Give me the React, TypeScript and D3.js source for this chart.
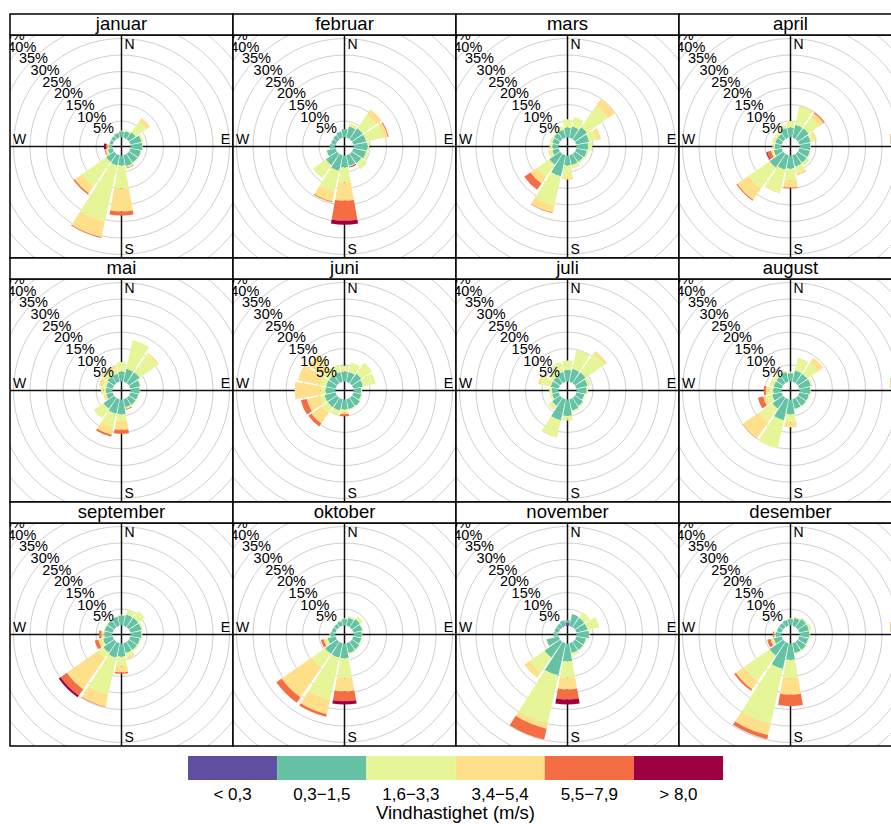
import React from 'react';
import * as d3 from 'd3';

const months = ['januar', 'februar', 'mars', 'april', 'mai', 'juni', 'juli', 'august', 'september', 'oktober', 'november', 'desember'];
const directions = [0, 22.5, 45, 67.5, 90, 112.5, 135, 157.5, 180, 202.5, 225, 247.5, 270, 292.5, 315, 337.5];
const speedBins = ['< 0,3', '0,3\u22121,5', '1,6\u22123,3', '3,4\u22125,4', '5,5\u22127,9', '> 8,0'];
const speedColors = ['#5E4FA2', '#66C2A5', '#E6F598', '#FEE08B', '#F46D43', '#9E0142'];
const gridLevels = [5, 10, 15, 20, 25, 30, 35, 40, 45];
const compass = ['N', 'E', 'S', 'W'];

// percent frequency per direction (N..NNW), per speed class
const januar = [[0,1.8,0.3,0,0,0],[0,2.0,0.5,0,0,0],[0,2.5,3.9,1.4,0,0],[0,3.5,0.6,0,0,0],[0,3.6,0.2,0,0,0],[0,3.3,0.2,0,0,0],[0,3.2,0.3,0,0,0],[0,3.4,0.4,0.1,0.2,0],[0,3.0,7.0,7.0,1.2,0],[0,3.2,17.3,4.9,0.3,0],[0,3.0,8.9,2.7,0.4,0],[0,1.5,0.4,0.3,0.3,0],[0,1.0,0.3,0.3,0.4,0.6],[0,1.0,0.1,0,0,0],[0,1.2,0.1,0,0,0],[0,1.5,0.2,0,0,0]];
const februar = [[0.1,2.5,0,0,0,0],[0,3.5,1.0,0,0,0],[0,4.0,5.0,2.0,0,0],[0,4.0,5.5,1.2,0.3,0],[0,4.3,0.5,0,0,0],[0,4.0,0.8,0,0,0],[0,3.5,2.2,0,0,0],[0,3.3,0.3,0,0,0.2],[0,3.6,4.6,5.5,6.1,1.2],[0,4.8,6.6,2.9,0.3,0],[0,4.2,4.8,0,0,0],[0,2.8,0.2,0,0,0],[0.2,1.5,0,0,0,0],[0.2,1.2,0,0,0,0],[0.2,1.3,0,0,0,0],[0.1,1.8,0,0,0,0]];
const mars = [[0,3.0,2.5,0,0,0],[0,3.5,2.9,0,0,0],[0,4.5,7.7,2.6,0,0],[0,4.0,2.5,1.2,0,0],[0,3.5,1.3,0,0,0],[0,3.3,0.5,0,0,0],[0,3.0,0.5,0,0,0],[0,3.0,0.8,0.3,0,0],[0,3.0,3.5,0.8,0,0],[0,6.5,9.0,2.3,0.2,0],[0,4.0,4.5,2.5,2.3,0],[0,2.0,0.8,0.5,0,0],[0,1.8,0.7,0.2,0,0],[0,2.0,0.8,0,0,0],[0,2.3,0.5,0,0,0],[0,2.5,1.1,0,0,0]];
const april = [[0,3.0,2.0,0,0,0],[0,4.0,5.5,0.4,0,0],[0,4.0,4.0,1.6,0.3,0],[0,3.5,1.5,0.5,0,0],[0,3.3,0.2,0,0,0],[0,3.3,0.3,0,0,0],[0,3.3,1.0,0,0,0],[0,3.5,2.0,0.5,0.1,0],[0,4.0,3.5,2.2,0.3,0],[0,4.5,7.0,0.3,0,0],[0,5.0,7.8,4.2,0.3,0],[0,2.5,0.5,0.3,1.2,0.3],[0,2.0,0.5,0.3,0,0],[0,2.0,1.0,0,0,0],[0,2.0,1.0,0,0,0],[0,3.0,1.0,0,0,0]];
const mai = [[0,3.0,2.9,0,0,0],[0,4.0,8.9,0,0,0],[0,4.0,6.7,0.5,0,0],[0,3.1,0.3,0,0,0],[0,2.8,0.2,0,0,0],[0,2.5,0.2,0,0,0],[0,2.5,0.3,0,0,0],[0,2.5,0.3,0.2,0.3,0],[0,4.5,2.0,2.7,1.2,0],[0,4.5,4.0,2.5,0.6,0],[0,4.0,3.6,0,0,0],[0,2.0,0.5,0.5,0,0],[0,2.0,0.8,0.7,0,0],[0,2.0,1.0,1.3,0,0],[0,2.5,1.5,0.8,0,0],[0,2.5,1.5,1.0,0,0]];
const juni = [[0,3.0,1.8,0,0,0],[0,3.0,3.0,0,0,0],[0,3.5,4.0,0,0,0],[0,3.0,4.0,0,0,0],[0,2.3,0.3,0,0,0],[0,2.5,0.3,0,0,0],[0,3.0,0.2,0,0,0],[0,3.0,0.3,0,0,0],[0,3.0,1.0,0.4,0.7,0],[0,3.5,1.6,0,0,0],[0,3.5,2.0,4.0,1.1,0],[0,3.5,1.5,4.0,1.8,0],[0,3.0,1.5,7.9,0,0],[0,3.0,2.0,6.7,0,0],[0,3.0,2.5,5.0,0,0],[0,3.0,2.2,0,0,0]];
const juli = [[0,3.5,2.9,0,0,0],[0,4.0,5.9,0,0,0],[0,4.0,6.8,1.1,0,0],[0,3.5,1.1,0,0,0],[0,3.0,0.5,0,0,0],[0,2.5,0.2,0,0,0],[0,3.0,0.3,0,0,0],[0,3.5,0.5,0,0,0],[0,5.0,0.8,0.6,0,0],[0,6.5,5.0,0.4,0,0],[0,3.0,1.5,0,0,0],[0,2.0,0.8,0,0,0],[0,2.0,0.8,0,0,0],[0,2.5,3.0,1.0,0,0],[0,2.5,1.8,0,0,0],[0,3.0,3.1,0,0,0]];
const august = [[0,2.5,0.5,0,0,0],[0,3.5,3.9,0,0,0],[0,3.5,4.0,1.9,0,0],[0.1,3.5,0.5,0,0,0],[0,3.3,0.2,0,0,0],[0,3.0,0.2,0,0,0],[0,3.0,0.2,0,0,0],[0,3.0,0.3,0,0,0],[0,4.5,2.5,1.4,0,0],[0,6.5,8.8,0,0,0],[0,4.0,5.0,6.0,0.1,0],[0,3.0,2.0,0.8,1.6,0],[0,2.5,1.5,0.8,0.6,0],[0,2.5,1.3,0,0,0],[0,2.5,1.0,0,0,0],[0,3.0,0.5,0,0,0]];
const september = [[0,3.0,0.3,0,0,0],[0,3.5,1.5,0,0,0],[0,3.5,2.5,0,0,0],[0,3.5,0.5,0,0,0],[0,3.3,0.3,0,0,0],[0,3.0,0.3,0,0,0],[0,3.0,0.5,0,0,0],[0,3.0,1.2,0.6,0,0],[0,4.0,3.0,1.7,0.5,0],[0,4.5,11.5,3.6,0.2,0],[0,4.0,2.0,11.5,2.3,0.7],[0,3.0,0.5,1.0,1.1,0],[0,2.5,0.3,0.6,0.7,0],[0,2.5,0.3,0,0,0],[0,2.5,0.2,0,0,0],[0,2.8,0.2,0,0,0]];
const oktober = [[0,2.0,0.2,0,0,0],[0,2.5,0.5,0,0,0],[0,3.0,1.0,0,0,0],[0,2.8,0.3,0,0,0],[0,2.5,0.2,0,0,0],[0,2.5,0.2,0,0,0],[0,2.8,0.3,0,0,0],[0,3.0,0.5,0,0,0],[0,4.5,6.0,4.0,3.0,1.0],[0,4.5,13.0,4.5,0.8,0],[0,4.5,5.0,11.0,2.0,0],[0,2.5,0.8,0.5,0.8,0],[0,1.5,0.3,0,0,0],[0,1.2,0,0,0,0],[0,1.2,0,0,0,0],[0,1.5,0.2,0,0,0]];
const november = [[0.8,0.8,0,0,0,0],[0.2,3.4,0.2,0,0,0],[0,3.5,2.0,0,0,0],[0,3.5,3.7,0,0,0],[0,3.8,0.2,0,0,0],[0,3.0,0.3,0,0,0],[0,3.0,0.3,0,0,0],[0,3.0,0.8,0,0,0],[0,5.4,5.0,3.5,3.1,1.5],[0,10.0,15.0,1.5,3.4,0],[0,5.8,5.5,2.0,0,0],[0,3.8,0.2,0,0,0],[0,1.5,0,0,0,0],[0.1,1.2,0,0,0,0],[0.1,1.2,0,0,0,0],[0.2,1.5,0,0,0,0]];
const desember = [[0,2.0,0.2,0,0,0],[0,2.5,0.3,0,0,0],[0,3.0,0.5,0,0,0],[0,3.0,0.8,0,0,0],[0,3.0,0.3,0,0,0],[0,2.8,0.2,0,0,0],[0,3.0,0.3,0,0,0],[0,3.0,0.5,0,0,0],[0,5.0,5.5,5.0,3.5,0],[0,8.0,17.0,3.5,1.2,0],[0,5.0,9.5,3.0,0.6,0],[0,2.5,0.5,0.5,1.0,0],[0,1.8,0.3,0.2,0.3,0],[0,1.5,0,0,0,0],[0,1.5,0,0,0,0],[0,1.8,0,0,0,0]];

const monthData = [januar, februar, mars, april, mai, juni, juli, august, september, oktober, november, desember];

const FONT = 'Liberation Sans, Arial, sans-serif';
const left0 = 10, top0 = 14, panelW = 223, stripH = 21, plotH = 223, rowPitch = 244;
const halfWidthDeg = 10;

const rScale = d3.scaleLinear().domain([0, 45]).range([9, 9 + 3.3 * 45]);
const arcGen = d3.arc<any>();

function Panel({ idx }: { idx: number }) {
  const col = idx % 4, row = Math.floor(idx / 4);
  const x0 = left0 + col * panelW;
  const y0 = top0 + row * rowPitch;
  const py = y0 + stripH;
  const cx = x0 + panelW / 2, cy = py + plotH / 2;
  const data = monthData[idx];
  const clipId = `clip-${idx}`;
  const segs: any[] = [];
  data.forEach((vals, di) => {
    let cum = 0;
    const a = directions[di] * Math.PI / 180;
    const hw = halfWidthDeg * Math.PI / 180;
    vals.forEach((v, si) => {
      if (v <= 0) return;
      const d = arcGen({ innerRadius: rScale(cum), outerRadius: rScale(cum + v), startAngle: a - hw, endAngle: a + hw });
      segs.push(<path key={`${di}-${si}`} d={d || ''} fill={speedColors[si]} />);
      cum += v;
    });
  });
  return (
    <g>
      <defs>
        <clipPath id={clipId}><rect x={x0} y={py} width={panelW} height={plotH} /></clipPath>
      </defs>
      <rect x={x0} y={py} width={panelW} height={plotH} fill="white" />
      <g clipPath={`url(#${clipId})`}>
        {gridLevels.map(g => (
          <circle key={g} cx={cx} cy={cy} r={rScale(g)} fill="none" stroke="#cfcfcf" strokeWidth={1} />
        ))}
        <line x1={x0} x2={x0 + panelW} y1={cy} y2={cy} stroke="#111" strokeWidth={1.5} />
        <line x1={cx} x2={cx} y1={py} y2={py + plotH} stroke="#111" strokeWidth={1.5} />
        <g transform={`translate(${cx},${cy})`}>{segs}</g>
        {gridLevels.map(g => {
          const r = rScale(g);
          return (
            <text key={g} x={cx - r * Math.SQRT1_2} y={cy - r * Math.SQRT1_2} textAnchor="middle" dominantBaseline="central" fontSize={14.5} fontFamily={FONT} fill="#000">{`${g}%`}</text>
          );
        })}
        <text x={cx + 3} y={py + 14} fontSize={14} fontFamily={FONT}>{compass[0]}</text>
        <text x={cx + 3} y={py + plotH - 4} fontSize={14} fontFamily={FONT}>{compass[2]}</text>
        <text x={x0 + 3} y={cy - 3} fontSize={14} fontFamily={FONT}>{compass[3]}</text>
        <text x={x0 + panelW - 3} y={cy - 3} fontSize={14} textAnchor="end" fontFamily={FONT}>{compass[1]}</text>
      </g>
      <rect x={x0} y={py} width={panelW} height={plotH} fill="none" stroke="#000" strokeWidth={1.5} />
      <rect x={x0} y={y0} width={panelW} height={stripH} fill="white" stroke="#000" strokeWidth={1.5} />
      <text x={cx} y={y0 + 16} textAnchor="middle" fontSize={18.5} fontFamily={FONT}>{months[idx]}</text>
    </g>
  );
}

function Legend() {
  const lx = d3.scaleBand().domain(speedBins).range([188, 723]).padding(0);
  return (
    <g>
      {speedBins.map((b, i) => (
        <rect key={b} x={lx(b)} y={756} width={lx.bandwidth()} height={24} fill={speedColors[i]} />
      ))}
      {speedBins.map(b => (
        <text key={b} x={(lx(b) || 0) + lx.bandwidth() / 2} y={800} textAnchor="middle" fontSize={17} fontFamily={FONT}>{b}</text>
      ))}
      <text x={455.5} y={819} textAnchor="middle" fontSize={18.5} fontFamily={FONT}>Vindhastighet (m/s)</text>
    </g>
  );
}

export default function App() {
  return (
    <svg width={891} height={824} style={{ position: 'absolute', left: 0, top: 0, display: 'block', background: 'white' }}>
      <rect x={0} y={0} width={891} height={824} fill="white" />
      {months.map((m, i) => <Panel key={m} idx={i} />)}
      <Legend />
    </svg>
  );
}
